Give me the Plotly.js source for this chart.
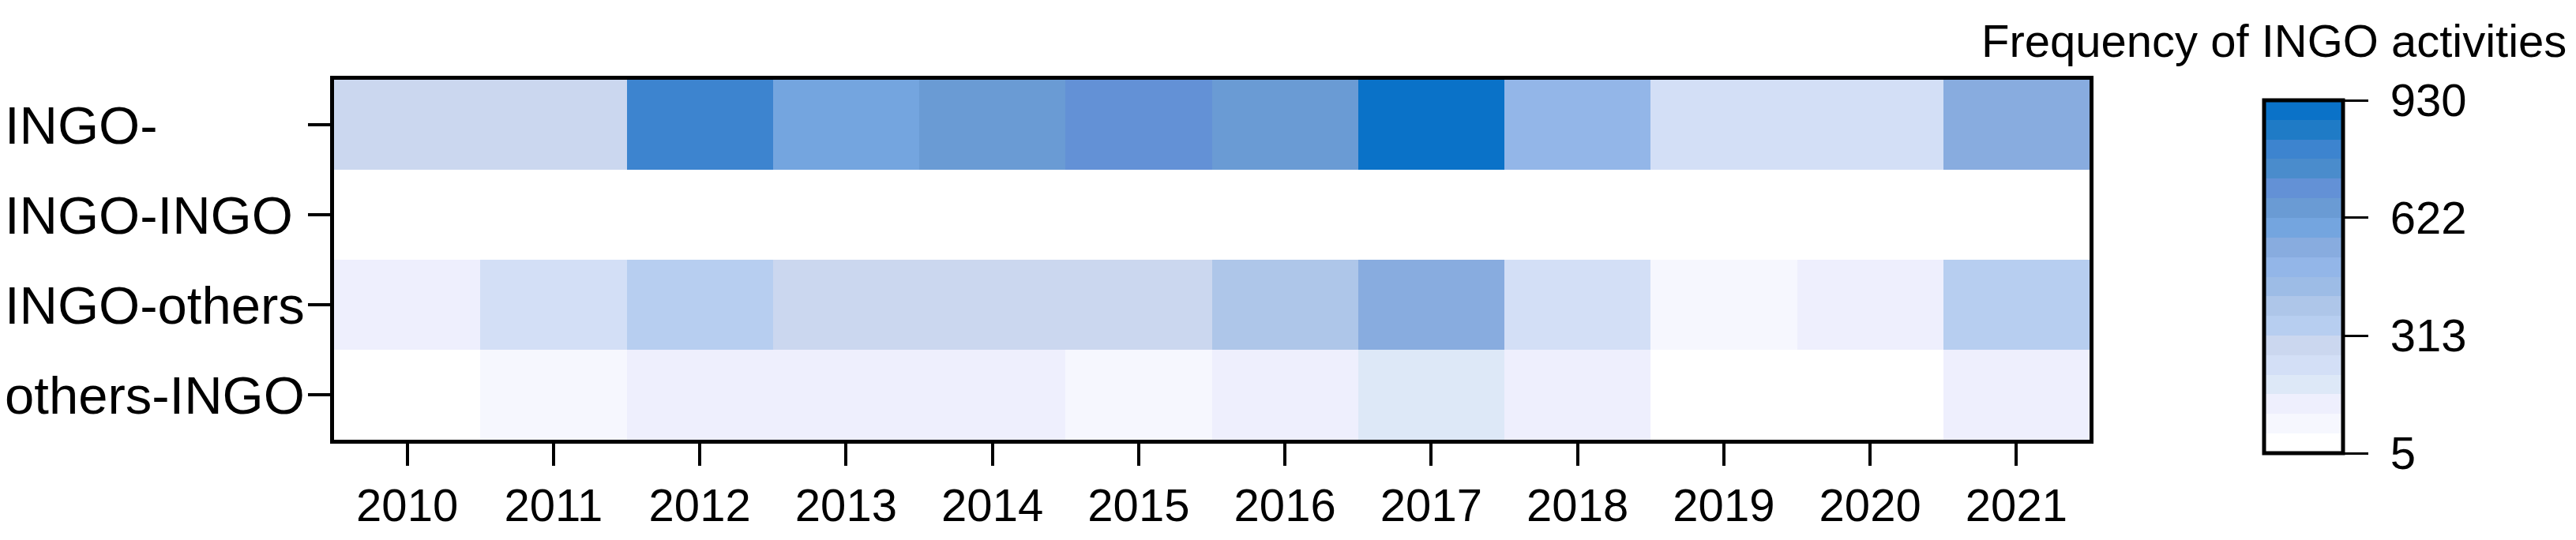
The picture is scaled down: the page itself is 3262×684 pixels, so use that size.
<!DOCTYPE html>
<html>
<head>
<meta charset="utf-8">
<script src="https://cdn.plot.ly/plotly-3.0.1.min.js"></script>
<style>html,body{margin:0;padding:0;background:#fff;}#chart{width:3262px;height:684px;}</style>
</head>
<body>
<div id="chart"></div>
<script>
// ---- data ----
var years = ['2010','2011','2012','2013','2014','2015','2016','2017','2018','2019','2020','2021'];
var categories = ['INGO-','INGO-INGO','INGO-others','others-INGO'];
var ingo          = [290, 285, 800, 595, 650, 700, 640, 930, 490, 240, 235, 545];
var ingoIngo      = [5, 6, 8, 7, 6, 8, 7, 9, 6, 5, 5, 7];
var ingoOthers    = [130, 235, 340, 290, 280, 285, 390, 545, 230, 80, 125, 345];
var othersIngo    = [30, 75, 120, 125, 120, 85, 130, 180, 115, 35, 30, 125];
var zMin = 5, zMax = 930;
var colorbarTicks = [5, 313, 622, 930];
var colorbarTitle = 'Frequency of INGO activities';
// discrete palette, low -> high
var bandColors = ['#ffffff','#f6f7fe','#eeeffd','#dde8f7','#d3dff6','#cbd7ef','#b7cef0','#aec6e9','#9dbce6',
                  '#93b6e8','#88acdf','#74a5df','#6a9bd4','#6391d6','#4a8ccc','#3d84cf','#1f7bc6','#0a72c8'];

// ---- build ----
var colorscale = [];
bandColors.forEach(function(c, i){
  colorscale.push([i / bandColors.length, c]);
  colorscale.push([(i + 1) / bandColors.length, c]);
});

var W = 3262, H = 684;
var L = 423, R = 2646, T = 101, B = 557;
var pw = R - L, ph = B - T;
function px2x(p){ return (p - L) / pw; }
function px2y(p){ return (B - p) / ph; }

var FONT = 'Arial, "Liberation Sans", sans-serif';

var trace = {
  type: 'heatmap',
  x: years,
  y: categories,
  z: [ingo, ingoIngo, ingoOthers, othersIngo],
  zmin: zMin, zmax: zMax,
  colorscale: colorscale,
  xgap: 0, ygap: 0,
  colorbar: {
    thickness: 100, thicknessmode: 'pixels',
    len: 447, lenmode: 'pixels',
    x: px2x(2867), xanchor: 'left', xref: 'paper',
    y: px2y(574), yanchor: 'bottom', yref: 'paper',
    xpad: 0, ypad: 0,
    outlinewidth: 5, outlinecolor: '#000',
    tickmode: 'array', tickvals: colorbarTicks,
    ticktext: colorbarTicks.map(function(v){ return '\u00a0' + v; }),
    ticks: 'outside', ticklen: 30, tickwidth: 3, tickcolor: '#000',
    tickfont: {family: FONT, size: 58, color: '#000'}
  }
};

var annotations = categories.map(function(c){
  return {
    text: c, xref: 'paper', yref: 'y', x: px2x(4), y: c,
    xanchor: 'left', yanchor: 'middle', showarrow: false,
    font: {family: FONT, size: 67, color: '#000'}
  };
});
annotations.push({
  text: colorbarTitle, xref: 'paper', yref: 'paper',
  x: px2x(3252), y: px2y(51), xanchor: 'right', yanchor: 'middle', showarrow: false,
  font: {family: FONT, size: 58, color: '#000'}
});

var layout = {
  width: W, height: H,
  margin: {l: L, r: W - R, t: T, b: H - B, pad: 0},
  paper_bgcolor: '#fff', plot_bgcolor: '#fff',
  font: {family: FONT, color: '#000'},
  xaxis: {
    type: 'category', showgrid: false, zeroline: false,
    showline: true, mirror: true, linewidth: 5, linecolor: '#000',
    ticks: 'outside', ticklen: 28, tickwidth: 4, tickcolor: '#000',
    tickfont: {family: FONT, size: 58, color: '#000'},
    ticklabelstandoff: 0
  },
  yaxis: {
    type: 'category', autorange: 'reversed', showgrid: false, zeroline: false,
    showline: true, mirror: true, linewidth: 5, linecolor: '#000',
    ticks: 'outside', ticklen: 28, tickwidth: 4, tickcolor: '#000',
    showticklabels: false
  },
  annotations: annotations,
  showlegend: false
};

Plotly.newPlot('chart', [trace], layout, {displayModeBar: false, staticPlot: true});
</script>
</body>
</html>
